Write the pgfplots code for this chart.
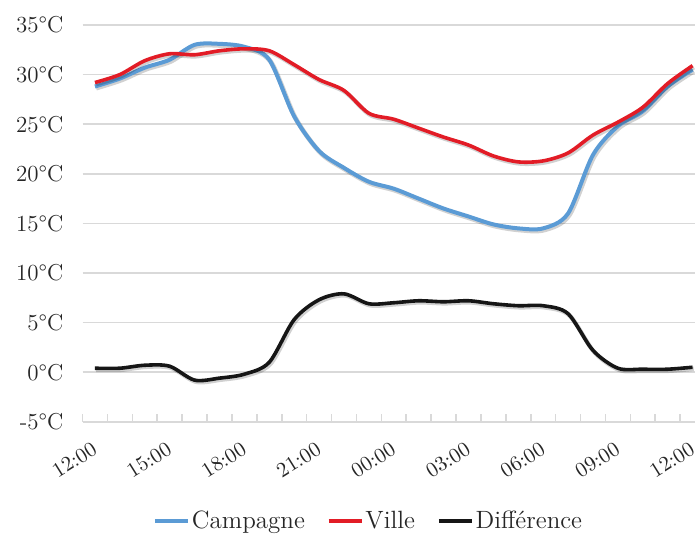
\documentclass[border=0pt]{standalone}
\usepackage{fontspec}
\usepackage{pgfplots}
\usepackage{pgfplotstable}
\pgfplotsset{compat=1.18}
\definecolor{cblue}{RGB}{91,155,213}
\definecolor{cred}{RGB}{226,28,38}
\definecolor{cblack}{RGB}{22,22,22}
\definecolor{cgrid}{RGB}{217,217,217}
\pgfplotstableread{
h blue red diff
0 28.8 29.2 0.4
1 29.6 30.0 0.4
2 30.7 31.4 0.7
3 31.5 32.1 0.6
4 33.0 32.0 -0.8
5 33.1 32.4 -0.6
6 32.8 32.6 -0.2
7 31.5 32.4 1.0
8 25.8 31.0 5.3
9 22.3 29.5 7.3
10 20.6 28.4 7.9
11 19.2 26.1 6.9
12 18.5 25.5 7.0
13 17.5 24.6 7.2
14 16.5 23.7 7.1
15 15.7 22.9 7.2
16 14.9 21.8 6.9
17 14.5 21.2 6.7
18 14.5 21.3 6.7
19 16.0 22.1 5.9
20 21.9 23.9 2.2
21 24.8 25.2 0.4
22 26.3 26.7 0.3
23 28.8 29.1 0.3
24 30.5 30.9 0.5
}\data
\begin{document}
\begin{tikzpicture}
\begin{axis}[
  scale only axis,
  width=311.25pt, height=198.4pt,
  xmin=-0.5, xmax=24.5,
  ymin=-5, ymax=35,
  axis line style={draw=none},
  ytick={-5,0,5,10,15,20,25,30,35},
  yticklabels={-5°C,0°C,5°C,10°C,15°C,20°C,25°C,30°C,35°C},
  ymajorgrids,
  grid style={cgrid, line width=0.8pt},
  xtick={0,3,...,24},
  xticklabels={12:00,15:00,18:00,21:00,00:00,03:00,06:00,09:00,12:00},
  minor xtick={-0.5,0.5,...,24.5},
  major tick length=0pt,
  minor tick length=4pt,
  tick align=inside,
  xtick pos=bottom,
  ytick pos=left,
  minor tick style={cgrid, line width=0.8pt},
  yticklabel style={font=\fontsize{11.5}{13}\selectfont, text=black!85, anchor=east, xshift=-6pt},
  xticklabel style={font=\fontsize{10.5}{12}\selectfont, text=black!85, inner xsep=0.5pt, xshift=0.5pt, yshift=-3.4pt, rotate=32, anchor=east},
  xticklabel shift=9pt,
  legend columns=3,
  legend style={at={(0.4595,-0.2503)}, anchor=center, draw=none, fill=none,
    font=\fontsize{12.5}{14}\selectfont, text=black!85,
    /tikz/every even column/.append style={column sep=10pt},
    nodes={inner xsep=1pt}},
  legend image code/.code={\draw[#1] (0pt,0pt) -- (16.5pt,0pt);},
]
\addplot[black, opacity=0.18, line width=2.4pt, smooth, forget plot, transform canvas={shift={(0.6pt,-0.8pt)}}] table[x=h, y=blue] {\data};
\addplot[cblue, line width=2pt, smooth] table[x=h, y=blue] {\data};
\addlegendentry{Campagne}
\addplot[black, opacity=0.18, line width=2.2pt, smooth, forget plot, transform canvas={shift={(0.6pt,-0.8pt)}}] table[x=h, y=red] {\data};
\addplot[cred, line width=1.8pt, smooth] table[x=h, y=red] {\data};
\addlegendentry{Ville}
\addplot[black, opacity=0.18, line width=2.2pt, smooth, forget plot, transform canvas={shift={(0.6pt,-0.8pt)}}] table[x=h, y=diff] {\data};
\addplot[cblack, line width=1.8pt, smooth] table[x=h, y=diff] {\data};
\addlegendentry{Différence}
\end{axis}
\pgfresetboundingbox
\path[use as bounding box] (-41.25pt,-55.65pt) rectangle (306.25pt,210.9pt);
\end{tikzpicture}
\end{document}
